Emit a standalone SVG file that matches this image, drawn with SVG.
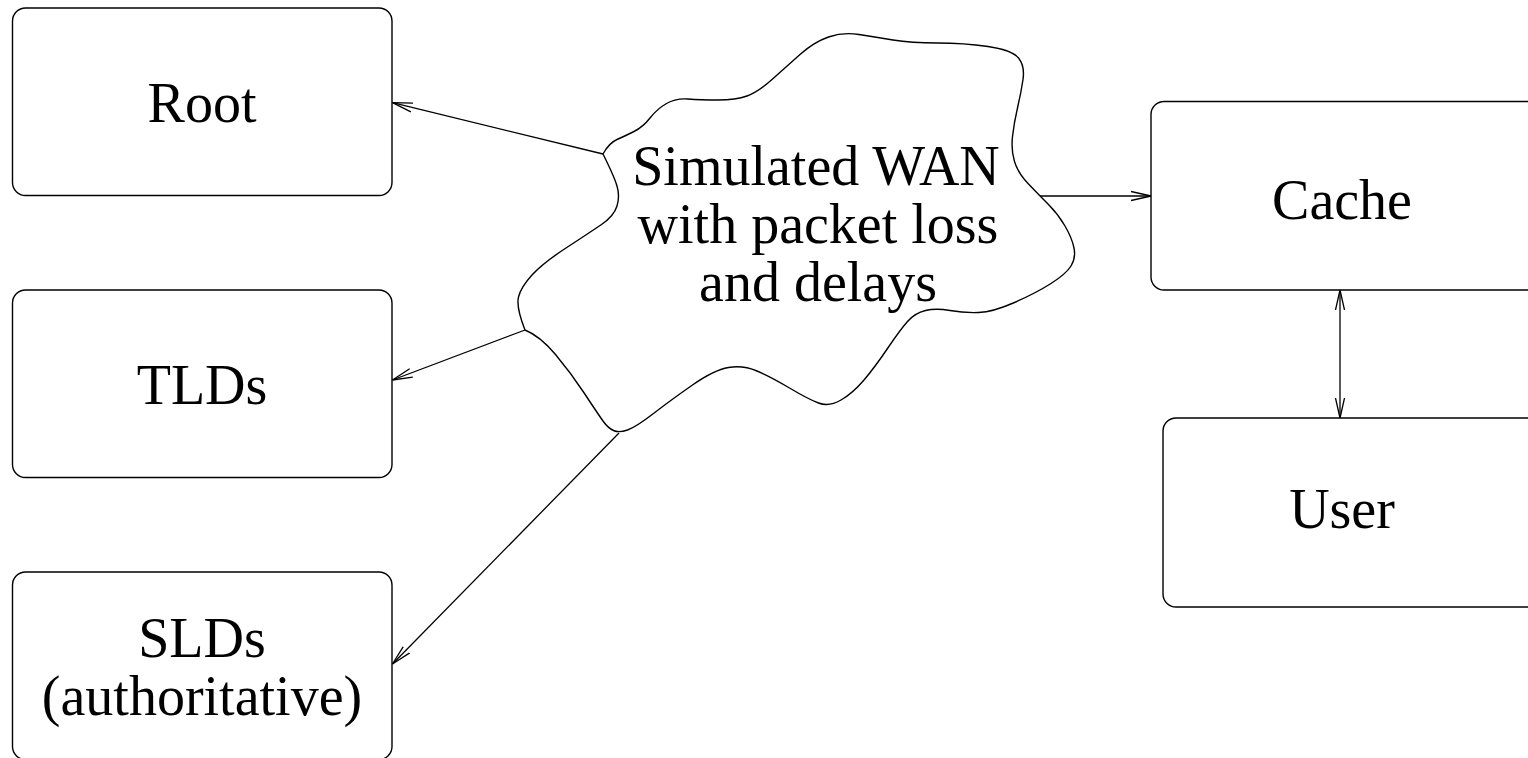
<svg xmlns="http://www.w3.org/2000/svg" width="1528" height="758" viewBox="0 0 1528 758">
<style>
.box{fill:#fff;stroke:#000;stroke-width:1.4}
.lbl{font-family:"Liberation Serif","Times New Roman",serif;font-size:56px;fill:#000;text-anchor:middle}
.cn{fill:none;stroke:#000;stroke-width:1.3}
.cloud{fill:#fff;stroke:#000;stroke-width:1.4;stroke-linejoin:round}
</style>
<defs>
<marker id="ah" markerUnits="userSpaceOnUse" viewBox="0 0 24 12" markerWidth="24" markerHeight="12" refX="20" refY="6" orient="auto-start-reverse">
<path d="M0,1.5 L20,6 L0,10.5" fill="none" stroke="#000" stroke-width="1.3"/>
</marker>
</defs>
<rect width="1528" height="758" fill="#fff"/>
<g id="connectors">
<line class="cn" x1="603" y1="154" x2="392.5" y2="102.7" marker-end="url(#ah)"/>
<line class="cn" x1="525" y1="330" x2="392.5" y2="380" marker-end="url(#ah)"/>
<line class="cn" x1="619" y1="433" x2="392.5" y2="664" marker-end="url(#ah)"/>
<line class="cn" x1="1039" y1="196" x2="1151" y2="196" marker-end="url(#ah)"/>
<line class="cn" x1="1340" y1="290" x2="1340" y2="418" marker-start="url(#ah)" marker-end="url(#ah)"/>
</g>
<g id="root">
<rect class="box" x="12.5" y="8" width="379.5" height="187.5" rx="13"/>
<text class="lbl" x="202" y="122">Root</text>
</g>
<g id="tlds">
<rect class="box" x="12.5" y="290" width="379.5" height="187.5" rx="13"/>
<text class="lbl" x="202" y="404">TLDs</text>
</g>
<g id="slds">
<rect class="box" x="12.5" y="572" width="379.5" height="187.5" rx="13"/>
<text class="lbl" x="202" y="657">SLDs</text>
<text class="lbl" x="202" y="715">(authoritative)</text>
</g>
<g id="cache">
<rect class="box" x="1151" y="101.5" width="390" height="188.5" rx="13"/>
<text class="lbl" x="1342" y="219">Cache</text>
</g>
<g id="user">
<rect class="box" x="1163" y="418" width="390" height="189" rx="13"/>
<text class="lbl" x="1342" y="528">User</text>
</g>
<g id="wan">
<path class="cloud" d="M603,154 Q609,143 617,139.5 Q625,136 634,131.5 Q643,127 650,118 Q657,109 666.5,103.5 Q676,98 688,99 Q700,100 718,100 Q736,100 747,96 Q758,92 772,79.5 Q786,67 800,54.5 Q814,42 828.5,37 Q843,32 859,34.5 Q875,37 893,40 Q911,43 937.5,43 Q964,43 988,46.5 Q1012,50 1018.5,58 Q1025,66 1023,79.5 Q1021,93 1017.5,108 Q1014,123 1012.5,136.5 Q1011,150 1014.5,161.5 Q1018,173 1028.5,184 Q1039,195 1048.5,204.5 Q1058,214 1065,226 Q1072,238 1074,248 Q1076,258 1071,266 Q1066,274 1051,283.5 Q1036,293 1014.5,302.5 Q993,312 978.5,312.5 Q964,313 950,310.5 Q936,308 925.5,310.5 Q915,313 907.5,321.5 Q900,330 887.5,348.5 Q875,367 864,380 Q853,393 841,400 Q829,407 818.5,403 Q808,399 789.5,388 Q771,377 757,371 Q743,365 728.5,367.5 Q714,370 692.5,385 Q671,400 653.5,413.5 Q636,427 627.5,430 Q619,433 613.5,430.5 Q608,428 603,421 Q598,414 584.5,393.5 Q571,373 555.5,354.5 Q540,336 525,330 Q516,307 518.5,297 Q521,287 532,275 Q543,263 566,248 Q589,233 601.5,224.5 Q614,216 617,206 Q620,196 617,186 Q614,176 603,154 Z"/>
<text class="lbl" x="816" y="185">Simulated WAN</text>
<text class="lbl" x="818" y="243">with packet loss</text>
<text class="lbl" x="818" y="301">and delays</text>
</g>
</svg>
